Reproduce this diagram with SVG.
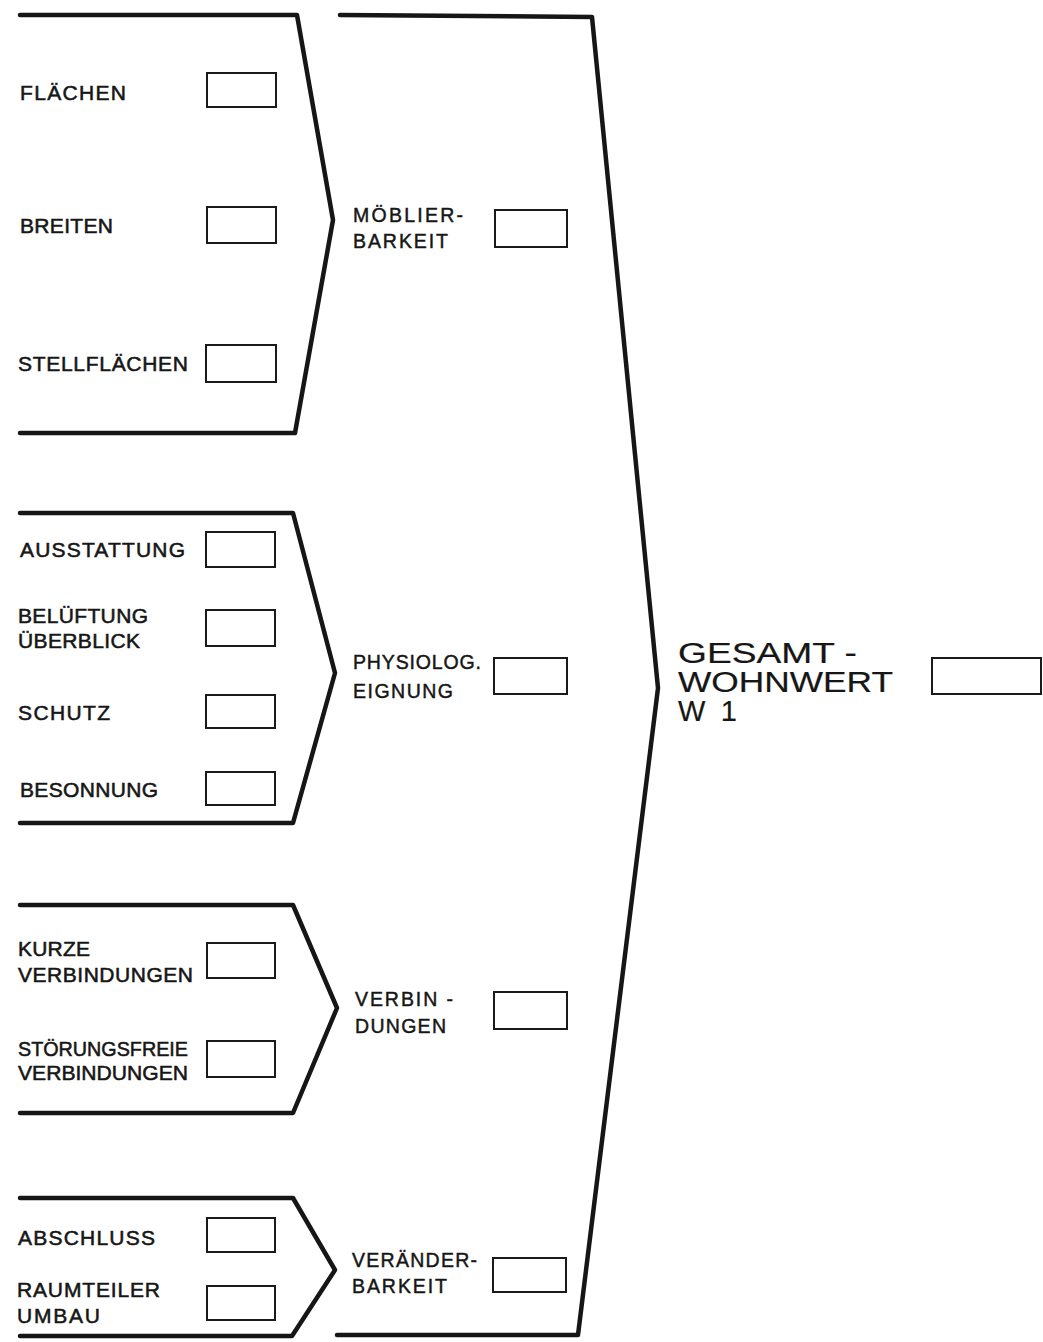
<svg xmlns="http://www.w3.org/2000/svg" width="1043" height="1342" viewBox="0 0 1043 1342">
<style>
.br{fill:none;stroke:#161616;stroke-width:4.5;stroke-linejoin:round;stroke-linecap:round}
.bx{fill:none;stroke:#1a1a1a;stroke-width:2}
.t{font-family:"Liberation Sans",Arial,sans-serif;font-size:21px;fill:#161616;stroke:#161616;stroke-width:0.55}
.m{font-family:"Liberation Sans",Arial,sans-serif;font-size:19.5px;fill:#161616;stroke:#161616;stroke-width:0.45}
.g{font-family:"Liberation Sans",Arial,sans-serif;font-size:29px;fill:#161616;stroke:#161616;stroke-width:0.2}
</style>
<rect width="1043" height="1342" fill="#fff"/>
<g id="connectors">
<path class="br" d="M20,15 L297,15 L333,220 L295,433 L20,433"/>
<path class="br" d="M20,513 L293,513 L335,673 L293,823 L20,823"/>
<path class="br" d="M20,905 L293,905 L337,1008 L293,1113 L20,1113"/>
<path class="br" d="M20,1198 L293,1198 L335,1270 L292,1336 L20,1336"/>
<path class="br" d="M340,15 L592,17 L658,688 L578,1335 L337,1335"/>
</g>
<g id="flaechen"><text class="t" x="20" y="100" textLength="106" lengthAdjust="spacing">FLÄCHEN</text><rect class="bx" x="207" y="73" width="69" height="34"/></g>
<g id="breiten"><text class="t" x="20" y="233" textLength="93" lengthAdjust="spacing">BREITEN</text><rect class="bx" x="207" y="207" width="69" height="36"/></g>
<g id="stellflaechen"><text class="t" x="18" y="371" textLength="170" lengthAdjust="spacing">STELLFLÄCHEN</text><rect class="bx" x="206" y="345" width="70" height="37"/></g>
<g id="moeblierbarkeit"><text class="m" x="353" y="222" textLength="110" lengthAdjust="spacing">MÖBLIER-</text><text class="m" x="353" y="248" textLength="95" lengthAdjust="spacing">BARKEIT</text><rect class="bx" x="495" y="210" width="72" height="37"/></g>
<g id="ausstattung"><text class="t" x="20" y="557" textLength="165" lengthAdjust="spacing">AUSSTATTUNG</text><rect class="bx" x="206" y="532" width="69" height="35"/></g>
<g id="belueftung"><text class="t" x="18" y="623" textLength="130" lengthAdjust="spacing">BELÜFTUNG</text><text class="t" x="18" y="648" textLength="122" lengthAdjust="spacing">ÜBERBLICK</text><rect class="bx" x="206" y="610" width="69" height="36"/></g>
<g id="schutz"><text class="t" x="18" y="720" textLength="92" lengthAdjust="spacing">SCHUTZ</text><rect class="bx" x="206" y="695" width="69" height="33"/></g>
<g id="besonnung"><text class="t" x="20" y="797" textLength="138" lengthAdjust="spacing">BESONNUNG</text><rect class="bx" x="206" y="772" width="69" height="33"/></g>
<g id="physiolog"><text class="m" x="353" y="669" textLength="128" lengthAdjust="spacing">PHYSIOLOG.</text><text class="m" x="353" y="698" textLength="100" lengthAdjust="spacing">EIGNUNG</text><rect class="bx" x="494" y="658" width="73" height="36"/></g>
<g id="kurze"><text class="t" x="18" y="956" textLength="72" lengthAdjust="spacing">KURZE</text><text class="t" x="18" y="982" textLength="175" lengthAdjust="spacing">VERBINDUNGEN</text><rect class="bx" x="207" y="943" width="68" height="35"/></g>
<g id="stoerungsfreie"><text class="t" x="18" y="1056" textLength="170" lengthAdjust="spacingAndGlyphs">STÖRUNGSFREIE</text><text class="t" x="18" y="1080" textLength="170" lengthAdjust="spacingAndGlyphs">VERBINDUNGEN</text><rect class="bx" x="207" y="1041" width="68" height="36"/></g>
<g id="verbindungen"><text class="m" x="355" y="1006" textLength="98" lengthAdjust="spacing">VERBIN -</text><text class="m" x="355" y="1033" textLength="91" lengthAdjust="spacing">DUNGEN</text><rect class="bx" x="494" y="992" width="73" height="37"/></g>
<g id="abschluss"><text class="t" x="18" y="1245" textLength="137" lengthAdjust="spacing">ABSCHLUSS</text><rect class="bx" x="207" y="1218" width="68" height="34"/></g>
<g id="raumteiler"><text class="t" x="17" y="1297" textLength="143" lengthAdjust="spacing">RAUMTEILER</text><text class="t" x="17" y="1323" textLength="83" lengthAdjust="spacing">UMBAU</text><rect class="bx" x="207" y="1286" width="68" height="34"/></g>
<g id="veraenderbarkeit"><text class="m" x="352" y="1267" textLength="125" lengthAdjust="spacing">VERÄNDER-</text><text class="m" x="352" y="1293" textLength="95" lengthAdjust="spacing">BARKEIT</text><rect class="bx" x="493" y="1258" width="73" height="34"/></g>
<g id="gesamtwohnwert"><text class="g" x="678" y="663" textLength="179" lengthAdjust="spacingAndGlyphs">GESAMT -</text><text class="g" x="678" y="692" textLength="215" lengthAdjust="spacingAndGlyphs">WOHNWERT</text><text class="g" x="678" y="721" textLength="59" lengthAdjust="spacing">W1</text><rect class="bx" x="932" y="658" width="109" height="36" stroke-width="1.6"/></g>
</svg>
